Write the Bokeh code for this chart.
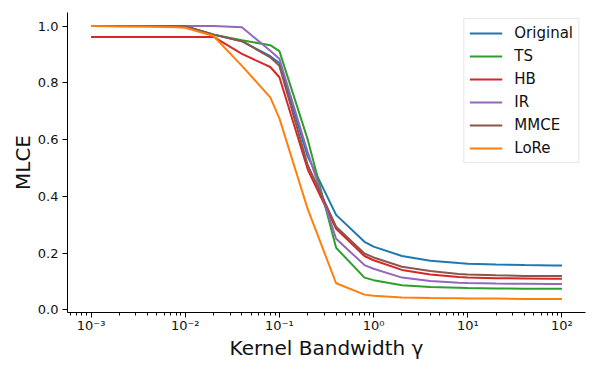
from bokeh.plotting import figure
from bokeh.models import Range1d, FixedTicker, CustomJSTickFormatter, PrintfTickFormatter, Legend, LegendItem
from bokeh.embed import file_html
from bokeh.resources import INLINE

# ---- data ----
bandwidth = [0.001, 0.002, 0.004, 0.008, 0.01, 0.02, 0.04, 0.08, 0.1, 0.2, 0.4,
             0.8, 1, 2, 4, 8, 10, 20, 40, 80, 100]
original = [1.0, 1.0, 1.0, 1.0, 1.0, 0.97, 0.947, 0.894, 0.87, 0.54, 0.335,
            0.24, 0.223, 0.19, 0.173, 0.165, 0.163, 0.16, 0.158, 0.157, 0.157]
ts = [1.0, 1.0, 1.0, 1.0, 0.999, 0.97, 0.95, 0.933, 0.912, 0.60, 0.219,
      0.114, 0.105, 0.087, 0.081, 0.078, 0.077, 0.076, 0.075, 0.075, 0.075]
hb = [0.962, 0.962, 0.962, 0.962, 0.962, 0.962, 0.902, 0.856, 0.82, 0.495, 0.286,
      0.19, 0.175, 0.141, 0.125, 0.116, 0.114, 0.112, 0.111, 0.11, 0.11]
ir = [1.0, 1.0, 1.0, 1.0, 1.0, 1.0, 0.996, 0.913, 0.885, 0.555, 0.251,
      0.158, 0.145, 0.114, 0.102, 0.096, 0.095, 0.093, 0.092, 0.091, 0.091]
mmce = [1.0, 1.0, 1.0, 1.0, 1.0, 0.97, 0.947, 0.89, 0.86, 0.51, 0.293,
        0.199, 0.185, 0.152, 0.137, 0.127, 0.125, 0.122, 0.12, 0.12, 0.12]
lore = [1.0, 0.999, 0.998, 0.996, 0.994, 0.965, 0.86, 0.749, 0.675, 0.355, 0.094,
        0.054, 0.05, 0.044, 0.042, 0.041, 0.04, 0.04, 0.039, 0.039, 0.039]

series_names = ["Original", "TS", "HB", "IR", "MMCE", "LoRe"]
series_values = [original, ts, hb, ir, mmce, lore]
series_colors = ["#1f77b4", "#2ca02c", "#d62728", "#9467bd", "#8c564b", "#ff7f0e"]

x_tick_exponents = [-3, -2, -1, 0, 1, 2]
x_tick_labels = ["10\u207b\u00b3", "10\u207b\u00b2", "10\u207b\u00b9", "10\u2070", "10\u00b9", "10\u00b2"]
y_ticks = [0.0, 0.2, 0.4, 0.6, 0.8, 1.0]

FONT = "DejaVu Sans"

p = figure(
    x_axis_type="log",
    x_range=Range1d(10 ** -3.25, 10 ** 2.25),
    y_range=Range1d(-0.009, 1.048),
    frame_width=518, frame_height=300,
    min_border_left=67, min_border_right=13, min_border_top=12, min_border_bottom=62,
    output_backend="svg", toolbar_location=None,
)
p.outline_line_color = None
p.grid.visible = False
p.background_fill_color = "white"
p.border_fill_color = "white"

items = []
for name, vals, col in zip(series_names, series_values, series_colors):
    r = p.line(bandwidth, vals, line_color=col, line_width=2)
    items.append(LegendItem(label=name, renderers=[r]))

# x axis ticks
major = [10.0 ** e for e in x_tick_exponents]
minor = []
for e in range(-4, 3):
    for k in range(2, 10):
        v = k * 10.0 ** e
        if 10 ** -3.25 <= v <= 10 ** 2.25:
            minor.append(v)
p.xaxis.ticker = FixedTicker(ticks=major, minor_ticks=minor)
p.xaxis.formatter = CustomJSTickFormatter(
    args=dict(exps=x_tick_exponents, labels=x_tick_labels),
    code="""
    const e = Math.round(Math.log10(tick));
    const i = exps.indexOf(e);
    return i >= 0 ? labels[i] : "";
    """)
p.yaxis.ticker = FixedTicker(ticks=y_ticks, minor_ticks=[])
p.yaxis.formatter = PrintfTickFormatter(format="%.1f")

for ax in (p.xaxis[0], p.yaxis[0]):
    ax.axis_line_color = "black"
    ax.axis_line_width = 1
    ax.major_tick_line_color = "black"
    ax.minor_tick_line_color = "black"
    ax.major_tick_out = 5
    ax.major_tick_in = 0
    ax.minor_tick_out = 3
    ax.minor_tick_in = 0
    ax.major_label_text_font = FONT
    ax.major_label_text_font_size = "13px"
    ax.major_label_text_color = "#111111"
    ax.axis_label_text_font = FONT
    ax.axis_label_text_font_size = "20px"
    ax.axis_label_text_font_style = "normal"
    ax.axis_label_text_color = "#111111"

p.yaxis.major_label_standoff = 4
p.yaxis.axis_label = "MLCE"
p.yaxis.axis_label_standoff = 0
p.xaxis.major_label_standoff = 0
p.xaxis.axis_label = "Kernel Bandwidth \u03b3"
p.xaxis.axis_label_standoff = 0

legend = Legend(items=items, location="top_right")
legend.margin = 6
legend.padding = 5
legend.spacing = 5
legend.label_height = 18
legend.glyph_height = 18
legend.glyph_width = 33
legend.label_standoff = 12
legend.label_text_font = FONT
legend.label_text_font_size = "15px"
legend.label_text_color = "#111111"
legend.border_line_color = "#cccccc"
legend.border_line_width = 1
legend.background_fill_alpha = 0.8
p.add_layout(legend)

open("out.html", "w").write(file_html(p, INLINE))
